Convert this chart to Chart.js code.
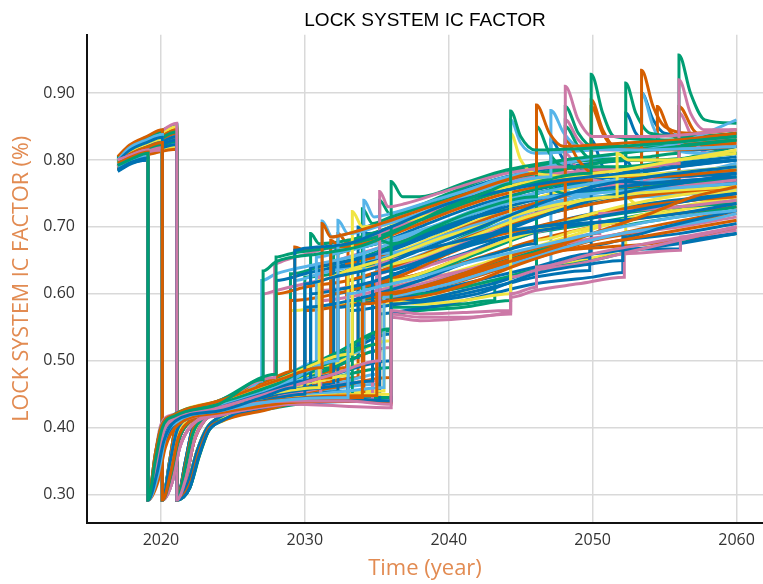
<!DOCTYPE html>
<html>
<head>
<meta charset="utf-8">
<title>Lock system IC factor</title>
<script src="https://cdn.jsdelivr.net/npm/chart.js@4"></script>
<style>
  html, body { margin: 0; padding: 0; background: #fff; }
  #wrap { width: 763px; height: 584px; position: relative; }
</style>
</head>
<body>
<div id="wrap"><canvas id="chartIC"></canvas></div>
<script>
// tick labels
const yearTicks = [2020, 2030, 2040, 2050, 2060];
const factorTicks = [0.3, 0.4, 0.5, 0.6, 0.7, 0.8, 0.9];

// each run: year, factor, year, factor ... (same year twice = a step)
// runs whose first collapse is in 2019
const runsDrop2019 = [
  [2017,.792, 2018,.802, 2019.1,.81, 2019.1,.292, 2019.6,.35, 2020.1,.40, 2021,.418, 2024,.435, 2027.1,.472, 2027.1,.634, 2028,.648, 2031,.66, 2034,.672, 2037,.70, 2040,.73, 2043,.755, 2044.3,.765, 2044.3,.873, 2045,.835, 2046,.815, 2050,.818, 2055,.825, 2060,.835],
  [2017,.786, 2018,.797, 2019.1,.803, 2019.1,.292, 2019.7,.33, 2020.2,.38, 2021,.41, 2024,.425, 2027,.445, 2029.3,.46, 2029.3,.665, 2030,.668, 2033,.675, 2036,.70, 2040,.735, 2044,.755, 2048,.77, 2052,.78, 2056,.79, 2060,.80],
  [2017,.795, 2018,.805, 2019.1,.812, 2019.1,.292, 2019.6,.36, 2020,.40, 2021,.42, 2024,.44, 2028,.47, 2031.2,.49, 2031.2,.705, 2031.8,.685, 2033,.69, 2036,.71, 2040,.74, 2044,.77, 2046.1,.78, 2046.1,.882, 2047,.84, 2048,.82, 2052,.825, 2056,.83, 2060,.84],
  [2017,.79, 2018,.80, 2019.1,.806, 2019.1,.292, 2019.8,.33, 2020.3,.385, 2021.2,.41, 2024,.425, 2028,.44, 2033,.445, 2033,.60, 2035,.61, 2038,.625, 2041,.645, 2044,.66, 2048,.68, 2052,.70, 2056,.715, 2060,.725],
  [2017,.788, 2018,.799, 2019.1,.805, 2019.1,.292, 2019.6,.35, 2020.1,.40, 2021,.415, 2024,.43, 2028,.455, 2032,.48, 2035.2,.50, 2035.2,.753, 2035.8,.73, 2037,.735, 2040,.755, 2044,.78, 2048.1,.79, 2048.1,.91, 2049,.86, 2050,.835, 2054,.835, 2060,.845],
  [2017,.80, 2018,.808, 2019.1,.815, 2019.1,.292, 2019.7,.34, 2020.2,.395, 2021,.412, 2024,.428, 2029,.44, 2033,.44, 2036,.435, 2036,.575, 2038,.57, 2041,.572, 2044.3,.575, 2044.3,.60, 2046.1,.61, 2046.1,.64, 2050,.66, 2055,.68, 2060,.70],
  [2017,.783, 2018,.795, 2019.1,.80, 2019.1,.292, 2019.6,.345, 2020,.39, 2020.8,.41, 2024,.43, 2027,.45, 2030,.47, 2030,.615, 2032,.625, 2035,.64, 2038,.665, 2041,.69, 2044,.715, 2047,.74, 2050,.76, 2054,.775, 2060,.79],
  [2017,.793, 2018,.803, 2019.1,.81, 2019.1,.292, 2019.7,.34, 2020.1,.39, 2020.9,.412, 2024,.432, 2028,.46, 2032.3,.50, 2032.3,.71, 2033,.69, 2035,.70, 2038,.72, 2041,.745, 2044,.765, 2047.1,.775, 2047.1,.874, 2048,.84, 2049,.82, 2053,.815, 2060,.82],
  [2017,.787, 2018,.798, 2019.1,.804, 2019.1,.292, 2019.8,.32, 2020.3,.37, 2021.2,.405, 2024,.422, 2029,.438, 2034,.445, 2034,.585, 2036,.59, 2039,.60, 2042,.62, 2045,.645, 2048,.665, 2052,.68, 2056,.695, 2060,.71],
  [2017,.797, 2018,.806, 2019.1,.812, 2019.1,.292, 2019.6,.36, 2020,.40, 2020.8,.418, 2024,.44, 2028,.48, 2028,.655, 2029,.66, 2032,.67, 2035,.685, 2038,.71, 2041,.735, 2044,.755, 2049.9,.78, 2049.9,.928, 2050.7,.87, 2051.5,.835, 2055,.83, 2060,.835],
  [2017,.784, 2018,.796, 2019.1,.80, 2019.1,.292, 2019.7,.33, 2020.2,.385, 2021,.408, 2024,.425, 2028,.44, 2032,.445, 2036,.44, 2036,.585, 2039,.59, 2042,.60, 2046,.63, 2050,.645, 2052.1,.65, 2052.1,.685, 2055,.70, 2060,.725],
  [2017,.798, 2018,.807, 2019.1,.813, 2019.1,.292, 2019.6,.35, 2020.1,.40, 2021,.42, 2024,.44, 2028,.47, 2033.3,.51, 2033.3,.723, 2034,.70, 2036,.705, 2039,.72, 2042,.745, 2045,.765, 2048,.775, 2052,.785, 2056,.80, 2060,.815],
  [2017,.79, 2018,.80, 2019.1,.807, 2019.1,.292, 2019.7,.34, 2020.2,.39, 2021,.41, 2024,.428, 2030,.445, 2035,.448, 2035,.60, 2037,.605, 2040,.62, 2043,.64, 2046,.66, 2050,.69, 2054,.72, 2057,.745, 2060,.76],
  [2017,.795, 2018,.804, 2019.1,.81, 2019.1,.292, 2019.6,.355, 2020,.40, 2020.8,.415, 2024,.432, 2027,.448, 2031,.46, 2031,.62, 2033,.635, 2036,.655, 2039,.68, 2042,.70, 2045,.72, 2048,.735, 2051.7,.745, 2051.7,.81, 2052.5,.80, 2055,.80, 2060,.81],
  [2017,.786, 2018,.797, 2019.1,.803, 2019.1,.292, 2019.6,.35, 2020.1,.395, 2021,.415, 2024,.435, 2028,.47, 2032,.51, 2036,.548, 2036,.768, 2036.8,.745, 2038,.745, 2041,.765, 2044,.785, 2048,.80, 2052,.81, 2056,.82, 2060,.83],
  [2017,.792, 2018,.801, 2019.1,.808, 2019.1,.292, 2019.8,.33, 2020.3,.38, 2021.1,.408, 2024,.425, 2027,.44, 2030,.45, 2030,.58, 2032,.585, 2035,.60, 2038,.62, 2041,.645, 2044,.665, 2046,.675, 2046,.70, 2049,.71, 2053,.725, 2057,.74, 2060,.75],
  [2017,.789, 2018,.80, 2019.1,.806, 2019.1,.292, 2019.65,.345, 2020.1,.395, 2021,.415, 2024,.43, 2029,.445, 2036,.45, 2036,.59, 2038,.585, 2041,.59, 2044.3,.60, 2044.3,.84, 2045,.80, 2046,.78, 2050,.775, 2055,.78, 2060,.79],
  [2017,.796, 2018,.806, 2019.1,.812, 2019.1,.292, 2019.6,.355, 2020,.40, 2021,.418, 2024,.436, 2028,.465, 2032,.50, 2035.2,.525, 2035.2,.68, 2036,.675, 2039,.70, 2042,.725, 2046.1,.745, 2046.1,.85, 2047,.81, 2048,.79, 2052,.79, 2056,.80, 2060,.81],
  [2017,.785, 2018,.797, 2019.1,.802, 2019.1,.292, 2019.75,.33, 2020.25,.38, 2021.1,.408, 2024,.424, 2028,.437, 2034,.44, 2036,.438, 2036,.60, 2038,.61, 2041,.63, 2044,.655, 2048.1,.675, 2048.1,.83, 2049,.80, 2050,.78, 2054,.775, 2060,.785],
  [2017,.791, 2018,.801, 2019.1,.808, 2019.1,.292, 2019.6,.35, 2020.1,.40, 2021,.416, 2024,.432, 2028,.455, 2031.8,.475, 2031.8,.68, 2032.5,.67, 2035,.68, 2038,.705, 2041,.73, 2044,.75, 2049.9,.77, 2049.9,.89, 2050.7,.845, 2051.5,.82, 2055,.815, 2060,.82],
  [2017,.794, 2018,.804, 2019.1,.811, 2019.1,.292, 2019.7,.34, 2020.2,.39, 2021,.413, 2024,.428, 2028,.45, 2032,.462, 2034.7,.47, 2034.7,.63, 2036,.635, 2039,.655, 2042,.675, 2045,.69, 2048,.70, 2052.3,.71, 2052.3,.80, 2053,.78, 2055,.775, 2060,.78],
  [2017,.788, 2018,.799, 2019.1,.805, 2019.1,.292, 2019.8,.325, 2020.3,.375, 2021.2,.406, 2024,.421, 2029,.436, 2033,.44, 2036,.437, 2036,.565, 2038,.56, 2041,.563, 2043,.568, 2044.3,.572, 2044.3,.625, 2046,.635, 2049,.645, 2052,.66, 2056,.68, 2060,.70],
  [2017,.799, 2018,.808, 2019.1,.815, 2019.1,.292, 2019.6,.36, 2020,.405, 2020.9,.42, 2024,.44, 2027.9,.475, 2027.9,.645, 2028.6,.65, 2031,.665, 2034,.68, 2037,.705, 2040,.735, 2043,.76, 2046,.775, 2050,.785, 2054,.79, 2056,.795, 2056,.92, 2056.8,.87, 2057.8,.845, 2060,.845],
  [2017,.787, 2018,.798, 2019.1,.803, 2019.1,.292, 2019.65,.34, 2020.15,.39, 2021,.412, 2024,.427, 2029,.445, 2033,.455, 2035.5,.46, 2035.5,.595, 2037,.60, 2040,.615, 2043,.635, 2046,.655, 2049,.675, 2052,.69, 2055,.70, 2058,.71, 2060,.72],
  [2017,.793, 2018,.803, 2019.1,.81, 2019.1,.292, 2019.6,.35, 2020.1,.398, 2021,.417, 2024,.433, 2028,.458, 2030.4,.47, 2030.4,.60, 2032,.605, 2035,.62, 2038,.645, 2041,.67, 2044,.695, 2047,.72, 2050,.74, 2053,.755, 2056,.765, 2060,.78],
  [2017,.797, 2018,.806, 2019.1,.812, 2019.1,.292, 2019.6,.355, 2020,.40, 2020.9,.418, 2024,.437, 2028,.468, 2032,.50, 2034.1,.515, 2034.1,.74, 2034.8,.715, 2036,.72, 2039,.74, 2042,.76, 2045,.78, 2048,.795, 2052,.81, 2056,.825, 2060,.86]
];

// runs whose first collapse is in 2020
const runsDrop2020 = [
  [2017,.793, 2017.8,.808, 2019,.819, 2020.1,.826, 2020.1,.292, 2020.7,.335, 2021.2,.385, 2022,.41, 2024,.426, 2029,.443, 2034.1,.45, 2034.1,.595, 2036,.60, 2039,.615, 2042,.635, 2045,.655, 2048,.665, 2051,.67, 2054,.675, 2057,.685, 2060,.70],
  [2017,.798, 2017.8,.814, 2019,.826, 2020.1,.834, 2020.1,.292, 2020.6,.345, 2021.1,.395, 2022,.415, 2024,.432, 2028,.458, 2031,.475, 2032,.48, 2032,.64, 2034,.645, 2037,.66, 2040,.675, 2043,.69, 2046,.70, 2049,.705, 2052,.71, 2056,.72, 2060,.735],
  [2017,.791, 2017.8,.806, 2019,.817, 2020.1,.823, 2020.1,.292, 2020.7,.33, 2021.2,.38, 2022,.41, 2024,.424, 2029,.442, 2033.3,.448, 2033.3,.59, 2035,.595, 2038,.61, 2041,.63, 2044,.65, 2047,.67, 2050,.69, 2053,.705, 2056,.715, 2060,.73],
  [2017,.80, 2017.8,.816, 2019,.828, 2020.1,.836, 2020.1,.292, 2020.6,.345, 2021.1,.395, 2022,.415, 2024,.433, 2028,.46, 2030.8,.475, 2030.8,.655, 2032,.66, 2035,.675, 2038,.695, 2041,.715, 2044,.735, 2047,.745, 2050,.75, 2053,.755, 2057,.76, 2060,.765],
  [2017,.789, 2017.8,.804, 2019,.814, 2020.1,.819, 2020.1,.292, 2020.8,.32, 2021.3,.37, 2022.2,.405, 2024,.42, 2029,.438, 2034.7,.443, 2034.7,.60, 2036,.605, 2039,.62, 2042,.64, 2045,.66, 2048,.68, 2050.5,.69, 2050.5,.72, 2053,.725, 2056,.73, 2060,.74],
  [2017,.796, 2017.8,.812, 2019,.824, 2020.1,.831, 2020.1,.292, 2020.6,.34, 2021.1,.39, 2022,.413, 2024,.43, 2028,.455, 2031,.47, 2033,.478, 2033,.635, 2035,.64, 2038,.655, 2041,.68, 2044,.705, 2047,.725, 2050,.74, 2053,.75, 2056,.755, 2060,.76],
  [2017,.80, 2017.8,.818, 2019,.83, 2020.1,.838, 2020.1,.292, 2020.6,.34, 2021.1,.395, 2022,.415, 2024,.43, 2026,.455, 2027,.47, 2027,.62, 2028,.63, 2031,.645, 2034,.66, 2037,.685, 2040,.71, 2043,.735, 2046,.75, 2050,.765, 2055,.78, 2060,.79],
  [2017,.79, 2017.8,.805, 2019,.815, 2020.1,.82, 2020.1,.292, 2020.7,.33, 2021.2,.38, 2022,.41, 2024,.425, 2028,.445, 2028,.60, 2030,.61, 2033,.62, 2036,.64, 2039,.665, 2042,.69, 2045,.71, 2049,.73, 2053,.745, 2060,.76],
  [2017,.805, 2017.8,.822, 2019,.835, 2020.1,.845, 2020.1,.292, 2020.6,.35, 2021,.40, 2021.8,.42, 2024,.44, 2027,.465, 2029.3,.485, 2029.3,.67, 2030,.665, 2033,.675, 2036,.695, 2039,.72, 2042,.745, 2045,.765, 2048,.775, 2053.4,.79, 2053.4,.934, 2054.2,.88, 2055,.85, 2057,.84, 2060,.845],
  [2017,.795, 2017.8,.81, 2019,.822, 2020.1,.83, 2020.1,.292, 2020.7,.335, 2021.2,.385, 2022,.412, 2024,.428, 2027,.445, 2030.4,.46, 2030.4,.64, 2032,.645, 2035,.66, 2038,.685, 2041,.71, 2044,.73, 2047,.745, 2050,.755, 2054,.765, 2060,.775],
  [2017,.788, 2017.8,.803, 2019,.812, 2020.1,.815, 2020.1,.292, 2020.8,.32, 2021.3,.37, 2022.2,.405, 2024,.418, 2028,.435, 2031.1,.445, 2031.1,.59, 2033,.595, 2036,.61, 2039,.625, 2042,.64, 2045,.66, 2048,.675, 2052,.69, 2056,.70, 2060,.715],
  [2017,.80, 2017.8,.816, 2019,.828, 2020.1,.835, 2020.1,.292, 2020.6,.345, 2021.1,.395, 2021.9,.415, 2024,.432, 2028,.462, 2032,.49, 2032,.66, 2033,.665, 2036,.68, 2039,.70, 2042,.725, 2045,.75, 2048.1,.765, 2048.1,.85, 2049,.82, 2050,.80, 2054,.80, 2060,.81],
  [2017,.79, 2017.8,.806, 2019,.817, 2020.1,.822, 2020.1,.292, 2020.7,.33, 2021.2,.38, 2022,.41, 2024,.425, 2029,.442, 2033,.445, 2033,.575, 2035,.58, 2038,.59, 2041,.605, 2043,.615, 2046,.635, 2049.8,.655, 2049.8,.672, 2052,.68, 2056,.69, 2060,.705],
  [2017,.803, 2017.8,.82, 2019,.833, 2020.1,.842, 2020.1,.292, 2020.6,.35, 2021,.40, 2021.8,.42, 2024,.44, 2028,.475, 2032,.505, 2034,.52, 2034,.727, 2034.7,.705, 2036,.715, 2039,.735, 2042,.755, 2045,.775, 2049,.79, 2052.3,.80, 2052.3,.915, 2053,.87, 2054,.84, 2057,.835, 2060,.84],
  [2017,.796, 2017.8,.812, 2019,.824, 2020.1,.83, 2020.1,.292, 2020.7,.335, 2021.2,.385, 2022,.41, 2024,.428, 2029,.45, 2035,.47, 2035,.63, 2037,.645, 2040,.67, 2043,.695, 2046,.72, 2050,.74, 2054,.755, 2060,.77],
  [2017,.792, 2017.8,.808, 2019,.818, 2020.1,.825, 2020.1,.292, 2020.8,.32, 2021.3,.37, 2022.2,.405, 2024,.42, 2029,.435, 2036,.43, 2036,.57, 2038,.565, 2041,.565, 2044.3,.57, 2044.3,.595, 2046,.605, 2049,.615, 2052.2,.625, 2052.2,.66, 2056.1,.665, 2056.1,.685, 2060,.695],
  [2017,.80, 2017.8,.817, 2019,.83, 2020.1,.84, 2020.1,.292, 2020.6,.34, 2021.1,.39, 2022,.415, 2024,.43, 2028,.46, 2032,.495, 2036,.53, 2036,.62, 2038,.63, 2041,.655, 2044,.68, 2047,.70, 2050,.72, 2054,.74, 2060,.76],
  [2017,.785, 2017.8,.80, 2019,.81, 2020.1,.814, 2020.1,.292, 2020.7,.33, 2021.2,.38, 2022,.408, 2024,.42, 2027,.435, 2029,.44, 2029,.59, 2031,.595, 2034,.61, 2037,.63, 2040,.66, 2043,.685, 2046,.70, 2049,.715, 2053,.73, 2057,.74, 2060,.745],
  [2017,.798, 2017.8,.814, 2019,.826, 2020.1,.833, 2020.1,.292, 2020.6,.35, 2021.1,.40, 2022,.418, 2024,.435, 2028,.47, 2031.2,.50, 2031.2,.709, 2031.9,.685, 2033,.69, 2036,.71, 2039,.735, 2042,.76, 2044.3,.775, 2044.3,.86, 2045,.825, 2046,.81, 2050,.815, 2055,.825, 2060,.835],
  [2017,.79, 2017.8,.807, 2019,.82, 2020.1,.827, 2020.1,.292, 2020.7,.335, 2021.2,.385, 2022,.41, 2024,.425, 2029,.44, 2034,.445, 2034,.61, 2036,.615, 2039,.635, 2042,.66, 2045,.685, 2048,.705, 2052,.72, 2056,.73, 2060,.735],
  [2017,.794, 2017.8,.81, 2019,.82, 2020.1,.828, 2020.1,.292, 2020.6,.345, 2021.1,.39, 2021.9,.412, 2024,.428, 2028,.45, 2032,.465, 2032,.60, 2034,.61, 2037,.635, 2040,.665, 2043,.69, 2046,.715, 2050,.735, 2054,.75, 2060,.765],
  [2017,.802, 2017.8,.82, 2019,.832, 2020.1,.84, 2020.1,.292, 2020.6,.34, 2021.1,.395, 2022,.415, 2024,.432, 2028,.46, 2032,.49, 2035.2,.515, 2035.2,.74, 2035.9,.72, 2037,.725, 2040,.75, 2043,.775, 2046,.79, 2050,.80, 2054,.805, 2056,.81, 2056,.957, 2056.8,.90, 2057.8,.86, 2060,.855],
  [2017,.797, 2017.8,.813, 2019,.825, 2020.1,.832, 2020.1,.292, 2020.6,.345, 2021.1,.395, 2022,.414, 2024,.43, 2028,.455, 2032,.475, 2036,.49, 2036,.605, 2038,.60, 2041,.61, 2044,.625, 2046.1,.635, 2046.1,.78, 2047,.76, 2048,.75, 2052,.755, 2056,.765, 2060,.775],
  [2017,.791, 2017.8,.806, 2019,.816, 2020.1,.821, 2020.1,.292, 2020.7,.33, 2021.2,.38, 2022,.41, 2024,.424, 2029,.44, 2032.3,.445, 2032.3,.58, 2034,.585, 2037,.595, 2040,.61, 2043,.625, 2046,.64, 2049.9,.66, 2049.9,.83, 2050.7,.79, 2051.5,.77, 2055,.765, 2060,.77],
  [2017,.803, 2017.8,.82, 2019,.834, 2020.1,.843, 2020.1,.292, 2020.6,.35, 2021,.40, 2021.8,.42, 2024,.438, 2028,.47, 2030.4,.49, 2030.4,.69, 2031,.675, 2033,.68, 2036,.70, 2039,.725, 2042,.75, 2045,.77, 2048.1,.785, 2048.1,.88, 2049,.84, 2050,.82, 2054,.82, 2060,.83],
  [2017,.789, 2017.8,.805, 2019,.815, 2020.1,.82, 2020.1,.292, 2020.7,.33, 2021.2,.38, 2022,.41, 2024,.425, 2028,.442, 2032,.45, 2035.5,.455, 2035.5,.61, 2037,.615, 2040,.63, 2043,.65, 2046,.67, 2049,.69, 2052,.71, 2056,.73, 2060,.745],
  [2017,.799, 2017.8,.815, 2019,.827, 2020.1,.835, 2020.1,.292, 2020.6,.345, 2021.1,.395, 2022,.415, 2024,.432, 2028,.462, 2032,.49, 2033.7,.505, 2033.7,.70, 2034.4,.69, 2036,.695, 2039,.72, 2042,.745, 2045,.765, 2049,.78, 2052.3,.79, 2052.3,.87, 2053,.84, 2054,.82, 2057,.815, 2060,.82],
  [2017,.793, 2017.8,.809, 2019,.82, 2020.1,.827, 2020.1,.292, 2020.7,.335, 2021.2,.385, 2022,.41, 2024,.426, 2029,.445, 2031.1,.45, 2031.1,.605, 2033,.61, 2036,.625, 2039,.645, 2042,.665, 2045,.685, 2048.1,.70, 2048.1,.81, 2049,.785, 2050,.77, 2054,.765, 2060,.77],
  [2017,.801, 2017.8,.818, 2019,.831, 2020.1,.84, 2020.1,.292, 2020.6,.34, 2021.1,.39, 2022,.415, 2024,.43, 2028,.455, 2029.3,.465, 2029.3,.62, 2031,.63, 2034,.645, 2037,.665, 2040,.69, 2043,.71, 2046,.725, 2050,.74, 2053.4,.75, 2053.4,.90, 2054.2,.85, 2055,.82, 2058,.81, 2060,.81],
  [2017,.787, 2017.8,.802, 2019,.812, 2020.1,.817, 2020.1,.292, 2020.8,.32, 2021.3,.37, 2022.2,.405, 2024,.419, 2029,.436, 2036,.44, 2036,.59, 2038,.59, 2041,.60, 2044,.615, 2046,.625, 2049.8,.635, 2049.8,.66, 2052,.665, 2056,.675, 2060,.69],
  [2017,.795, 2017.8,.811, 2019,.823, 2020.1,.83, 2020.1,.292, 2020.7,.335, 2021.2,.385, 2022,.412, 2024,.427, 2028,.448, 2033,.47, 2035,.48, 2035,.66, 2037,.665, 2040,.685, 2043,.71, 2046,.73, 2049,.745, 2052,.76, 2056,.775, 2060,.795],
  [2017,.80, 2017.8,.817, 2019,.829, 2020.1,.837, 2020.1,.292, 2020.6,.345, 2021.1,.395, 2022,.415, 2024,.434, 2028,.46, 2031,.48, 2032.9,.49, 2032.9,.645, 2034,.65, 2037,.665, 2040,.69, 2043,.715, 2046,.735, 2049,.75, 2053,.76, 2056,.77, 2056,.88, 2057,.845, 2058,.83, 2060,.83]
];

// runs whose first collapse is in 2021
const runsDrop2021 = [
  [2017,.80, 2018,.82, 2019.5,.835, 2021.1,.855, 2021.1,.292, 2021.8,.33, 2022.3,.38, 2023,.41, 2024,.425, 2026,.45, 2027.1,.465, 2027.1,.60, 2028,.605, 2031,.62, 2034,.635, 2037,.66, 2040,.69, 2043,.715, 2046,.735, 2050,.755, 2054,.77, 2060,.78],
  [2017,.79, 2018,.806, 2019.5,.818, 2021.1,.83, 2021.1,.292, 2022,.31, 2022.6,.355, 2023.3,.395, 2024.2,.41, 2028,.44, 2028,.62, 2030,.63, 2033,.645, 2036,.665, 2039,.69, 2042,.715, 2045,.73, 2047.1,.74, 2047.1,.83, 2048,.80, 2049,.785, 2053,.79, 2060,.80],
  [2017,.795, 2018,.812, 2019.5,.826, 2021.1,.842, 2021.1,.292, 2021.7,.34, 2022.2,.39, 2023,.415, 2024,.425, 2027,.45, 2029,.465, 2029,.63, 2031,.64, 2034,.655, 2037,.68, 2040,.705, 2043,.73, 2046,.75, 2050,.765, 2054,.775, 2060,.785],
  [2017,.786, 2018,.80, 2019.5,.81, 2021.1,.816, 2021.1,.292, 2022,.315, 2022.6,.36, 2023.3,.398, 2024.2,.41, 2027,.425, 2030,.438, 2030,.575, 2032,.58, 2035,.59, 2038,.605, 2041,.625, 2044,.645, 2047,.665, 2050,.68, 2054,.695, 2060,.72],
  [2017,.797, 2018,.814, 2019.5,.828, 2021.1,.845, 2021.1,.292, 2021.7,.345, 2022.2,.395, 2023,.418, 2024,.43, 2028,.46, 2032.3,.49, 2032.3,.69, 2033,.675, 2035,.685, 2038,.71, 2041,.735, 2044,.755, 2047,.77, 2050,.78, 2054.5,.79, 2054.5,.88, 2055.3,.845, 2056.5,.825, 2060,.83],
  [2017,.792, 2018,.808, 2019.5,.82, 2021.1,.835, 2021.1,.292, 2021.9,.32, 2022.5,.365, 2023.2,.40, 2024,.415, 2028,.44, 2033,.455, 2033,.62, 2035,.63, 2038,.65, 2041,.675, 2044,.70, 2047,.72, 2050,.735, 2054,.75, 2060,.77],
  [2017,.80, 2018,.818, 2019.5,.832, 2021.1,.85, 2021.1,.292, 2021.7,.34, 2022.2,.39, 2023,.415, 2024,.428, 2028,.455, 2031,.475, 2034,.495, 2034,.65, 2036,.66, 2039,.685, 2042,.71, 2045,.735, 2048,.755, 2052,.77, 2056,.78, 2060,.79],
  [2017,.788, 2018,.803, 2019.5,.814, 2021.1,.823, 2021.1,.292, 2022,.31, 2022.6,.355, 2023.3,.395, 2024.2,.41, 2028,.432, 2035.2,.44, 2035.2,.57, 2037,.575, 2040,.585, 2043,.60, 2046,.615, 2050,.625, 2052.1,.632, 2052.1,.667, 2056.1,.667, 2056.1,.682, 2060,.69],
  [2017,.796, 2018,.812, 2019.5,.825, 2021.1,.84, 2021.1,.292, 2021.8,.33, 2022.3,.38, 2023,.41, 2024,.425, 2028,.445, 2032,.46, 2036,.475, 2036,.60, 2038,.605, 2041,.62, 2044,.64, 2047,.66, 2050,.68, 2054,.70, 2060,.725],
  [2017,.79, 2018,.805, 2019.5,.816, 2021.1,.828, 2021.1,.292, 2022,.31, 2022.7,.36, 2023.4,.40, 2024.3,.412, 2028,.43, 2032,.44, 2036,.44, 2036,.58, 2038,.58, 2041,.585, 2043.2,.59, 2043.2,.62, 2046,.635, 2050,.65, 2053,.665, 2057,.68, 2060,.69],
  [2017,.803, 2018,.822, 2019.5,.838, 2021.1,.852, 2021.1,.292, 2021.7,.35, 2022.2,.40, 2023,.42, 2024,.432, 2028,.465, 2032,.50, 2036,.54, 2036,.66, 2038,.675, 2041,.705, 2044,.735, 2047,.755, 2050,.77, 2053,.785, 2056,.795, 2060,.805],
  [2017,.794, 2018,.81, 2019.5,.822, 2021.1,.838, 2021.1,.292, 2021.8,.33, 2022.3,.38, 2023,.41, 2024,.422, 2028,.445, 2031,.46, 2031,.645, 2033,.655, 2036,.675, 2039,.70, 2042,.725, 2045,.745, 2049,.76, 2053,.765, 2056,.77, 2056,.87, 2057,.83, 2058,.81, 2060,.81],
  [2017,.786, 2018,.80, 2019.5,.812, 2021.1,.82, 2021.1,.292, 2021.9,.32, 2022.5,.365, 2023.2,.40, 2024,.413, 2027,.43, 2029,.437, 2029,.575, 2031,.58, 2034,.59, 2037,.605, 2040,.625, 2043,.64, 2046.1,.655, 2046.1,.68, 2049,.695, 2052,.71, 2056,.725, 2060,.74],
  [2017,.798, 2018,.815, 2019.5,.83, 2021.1,.848, 2021.1,.292, 2021.7,.345, 2022.2,.395, 2023,.418, 2024,.43, 2028,.46, 2033,.50, 2033,.68, 2034,.685, 2036,.70, 2039,.725, 2042,.75, 2045,.77, 2049.9,.79, 2049.9,.88, 2050.7,.84, 2051.5,.82, 2055,.82, 2060,.825],
  [2017,.79, 2018,.806, 2019.5,.818, 2021.1,.83, 2021.1,.292, 2021.8,.33, 2022.3,.38, 2023,.41, 2024,.422, 2030,.45, 2035,.465, 2035,.64, 2037,.65, 2040,.675, 2043,.70, 2046,.725, 2049,.745, 2053,.76, 2057,.77, 2060,.775],
  [2017,.801, 2018,.82, 2019.5,.835, 2021.1,.853, 2021.1,.292, 2021.7,.35, 2022.2,.40, 2023,.42, 2024,.435, 2028,.47, 2031,.495, 2034,.52, 2034,.70, 2035,.705, 2038,.73, 2041,.755, 2044,.775, 2048,.79, 2053.4,.80, 2053.4,.90, 2054.2,.86, 2055,.84, 2058,.835, 2060,.84],
  [2017,.799, 2018,.816, 2019.5,.83, 2021.1,.847, 2021.1,.292, 2021.7,.345, 2022.2,.395, 2023,.418, 2024,.43, 2028,.458, 2032,.48, 2036,.50, 2036,.63, 2038,.64, 2041,.66, 2044,.685, 2047,.705, 2050,.72, 2054,.735, 2060,.75],
  [2017,.792, 2018,.807, 2019.5,.818, 2021.1,.83, 2021.1,.292, 2021.9,.32, 2022.5,.365, 2023.2,.40, 2024,.415, 2028,.437, 2033,.445, 2036,.445, 2036,.57, 2038,.575, 2041,.58, 2044.3,.59, 2044.3,.70, 2045,.69, 2047,.695, 2050,.705, 2054,.72, 2060,.74],
  [2017,.802, 2018,.82, 2019.5,.835, 2021.1,.85, 2021.1,.292, 2021.7,.35, 2022.2,.40, 2023,.42, 2024,.433, 2028,.468, 2032,.505, 2036,.545, 2036,.64, 2038,.655, 2041,.685, 2044,.715, 2047,.74, 2050,.76, 2053,.78, 2056,.80, 2060,.82],
  [2017,.787, 2018,.801, 2019.5,.811, 2021.1,.818, 2021.1,.292, 2022,.31, 2022.7,.36, 2023.4,.398, 2024.3,.41, 2028,.432, 2032,.44, 2034.7,.442, 2034.7,.58, 2036,.585, 2039,.595, 2042,.61, 2045,.63, 2048,.645, 2052.3,.66, 2052.3,.745, 2053,.735, 2056,.74, 2060,.755],
  [2017,.796, 2018,.813, 2019.5,.826, 2021.1,.843, 2021.1,.292, 2021.8,.33, 2022.3,.38, 2023,.412, 2024,.426, 2028,.45, 2031,.465, 2033.7,.475, 2033.7,.61, 2035,.615, 2038,.63, 2041,.655, 2044,.68, 2047,.70, 2050,.715, 2054,.73, 2060,.75],
  [2017,.789, 2018,.804, 2019.5,.815, 2021.1,.826, 2021.1,.292, 2022,.31, 2022.6,.355, 2023.3,.395, 2024.2,.41, 2028,.435, 2032,.445, 2036,.445, 2036,.595, 2038,.60, 2041,.61, 2044,.625, 2047.1,.64, 2047.1,.79, 2048,.76, 2049,.745, 2053,.745, 2060,.755],
  [2017,.80, 2018,.817, 2019.5,.833, 2021.1,.848, 2021.1,.292, 2021.7,.345, 2022.2,.395, 2023,.418, 2024,.432, 2028,.462, 2031,.485, 2031.8,.49, 2031.8,.67, 2032.5,.665, 2035,.675, 2038,.70, 2041,.725, 2044,.745, 2047,.76, 2050,.77, 2053,.78, 2056,.79, 2060,.80],
  [2017,.794, 2018,.81, 2019.5,.822, 2021.1,.836, 2021.1,.292, 2021.8,.33, 2022.3,.38, 2023,.41, 2024,.424, 2028,.445, 2030,.455, 2030,.625, 2032,.63, 2035,.645, 2038,.67, 2041,.695, 2044,.715, 2048,.735, 2052,.75, 2056,.76, 2060,.765],
  [2017,.791, 2018,.806, 2019.5,.818, 2021.1,.832, 2021.1,.292, 2021.9,.32, 2022.5,.365, 2023.2,.40, 2024,.415, 2028,.44, 2032,.452, 2035.2,.455, 2035.2,.62, 2037,.625, 2040,.64, 2043,.66, 2046,.68, 2050,.70, 2054,.715, 2060,.73],
  [2017,.798, 2018,.815, 2019.5,.83, 2021.1,.846, 2021.1,.292, 2021.7,.345, 2022.2,.395, 2023,.418, 2024,.431, 2028,.46, 2032,.49, 2036,.52, 2036,.70, 2037,.70, 2040,.725, 2043,.75, 2046,.77, 2048.1,.78, 2048.1,.86, 2049,.83, 2050,.815, 2054,.815, 2060,.825]
];

// palette slot for each run, in the same order as the runs
// (Chart.js paints dataset 0 last, so the first run of a group sits on top)
const colors2019 = [2, 0, 1, 4, 3, 3, 0, 4, 1, 2, 0, 5, 1, 5, 2, 0, 5, 2, 1, 1, 0, 3, 3, 4, 0, 4];
const colors2020 = [1, 0, 2, 4, 3, 5, 4, 1, 1, 0, 3, 2, 0, 2, 3, 3, 5, 1, 4, 2, 0, 2, 2, 0, 2, 5, 0, 3, 4, 0, 4, 1];
const colors2021 = [3, 0, 2, 1, 1, 0, 5, 0, 1, 2, 0, 3, 5, 1, 4, 0, 0, 2, 2, 5, 1, 4, 0, 2, 1, 3];

const PALETTE = ['#0072b2', '#d55e00', '#009e73', '#cc79a7', '#56b4e9', '#f0e442'];
const ORANGE_LABEL = '#e28b52';

function toPoints(flat) {
  const pts = [];
  for (let i = 0; i < flat.length; i += 2) pts.push({ x: flat[i], y: flat[i + 1] });
  return pts;
}

function makeDatasets(runs, slots) {
  return runs.map((run, i) => ({
    data: toPoints(run),
    borderColor: PALETTE[slots[i]],
    borderWidth: 3,
    pointRadius: 0,
    fill: false,
    cubicInterpolationMode: 'monotone'
  }));
}

const datasets = [
  ...makeDatasets(runsDrop2019, colors2019),
  ...makeDatasets(runsDrop2020, colors2020),
  ...makeDatasets(runsDrop2021, colors2021)
];

new Chart(document.getElementById('chartIC'), {
  type: 'line',
  data: { datasets },
  options: {
    responsive: true,
    maintainAspectRatio: false,
    animation: false,
    events: [],
    layout: { padding: 0 },
    plugins: {
      legend: { display: false },
      tooltip: { enabled: false },
      title: {
        display: true,
        text: 'LOCK SYSTEM IC FACTOR',
        color: '#000',
        fullSize: false,
        font: { family: 'Liberation Sans', size: 19, weight: 'normal' },
        padding: { top: 9, bottom: 3 }
      }
    },
    scales: {
      x: {
        type: 'linear',
        min: 2014.86,
        max: 2061.84,
        afterBuildTicks: s => { s.ticks = yearTicks.map(v => ({ value: v })); },
        afterFit: s => { s.height = 61; },
        ticks: {
          color: '#333',
          font: { family: 'Open Sans', size: 16 },
          padding: 8,
          callback: v => String(v)
        },
        grid: { color: '#d9d9d9', lineWidth: 1.5, drawTicks: false },
        border: { color: '#111', width: 2 },
        title: {
          display: true,
          text: 'Time (year)',
          color: ORANGE_LABEL,
          font: { family: 'Open Sans', size: 22 },
          padding: { top: 0, bottom: 2 }
        }
      },
      y: {
        type: 'linear',
        min: 0.2577,
        max: 0.987,
        afterBuildTicks: s => { s.ticks = factorTicks.map(v => ({ value: v })); },
        afterFit: s => { s.width = 87; },
        ticks: {
          color: '#333',
          font: { family: 'Open Sans', size: 16 },
          padding: 12,
          callback: v => v.toFixed(2)
        },
        grid: { color: '#d9d9d9', lineWidth: 1.5, drawTicks: false },
        border: { color: '#111', width: 2 },
        title: {
          display: true,
          text: 'LOCK SYSTEM IC FACTOR (%)',
          color: ORANGE_LABEL,
          font: { family: 'Open Sans', size: 21.5 },
          padding: { top: 9, bottom: 0 }
        }
      }
    }
  }
});
</script>
</body>
</html>
